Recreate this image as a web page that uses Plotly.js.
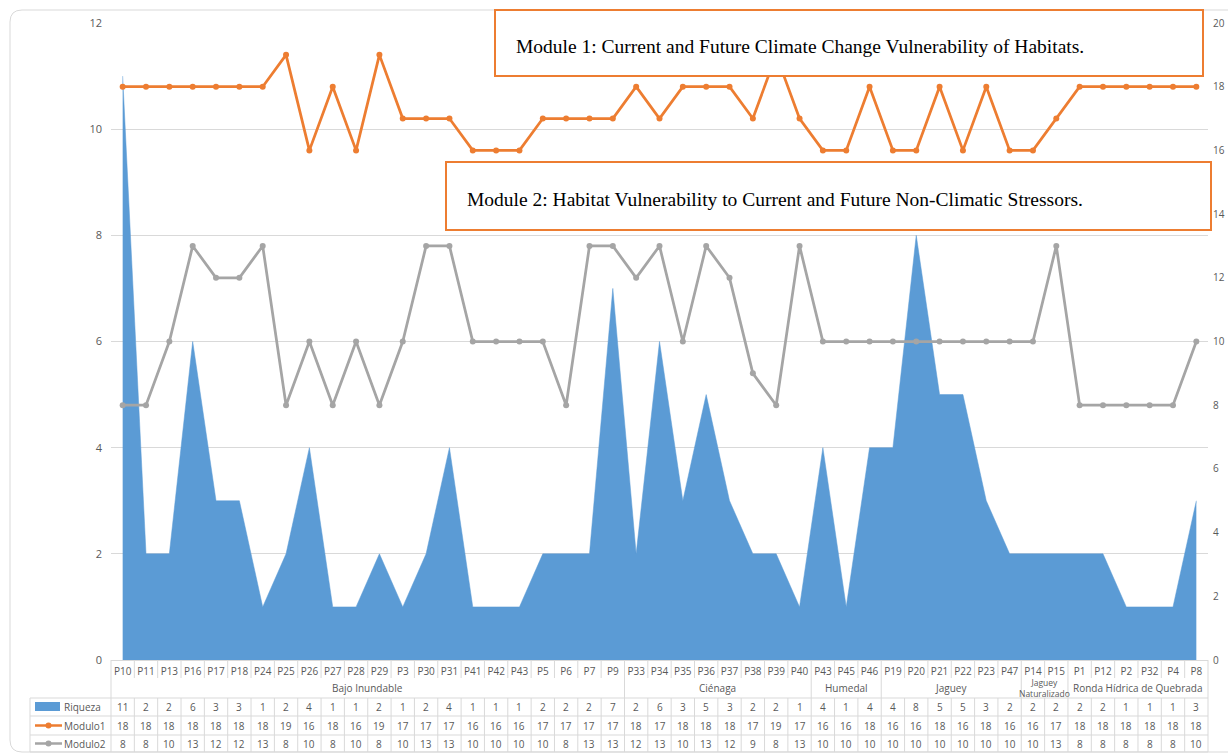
<!DOCTYPE html>
<html><head><meta charset="utf-8">
<script src="https://cdn.plot.ly/plotly-3.0.1.min.js"></script>
<style>html,body{margin:0;padding:0;background:#fff}</style>
</head><body>
<div id="chart" style="width:1228px;height:753px"></div>
<script>
const categories = ['P10','P11','P13','P16','P17','P18','P24','P25','P26','P27','P28','P29','P3','P30','P31','P41','P42','P43','P5','P6','P7','P9','P33','P34','P35','P36','P37','P38','P39','P40','P43','P45','P46','P19','P20','P21','P22','P23','P47','P14','P15','P1','P12','P2','P32','P4','P8'];
const groups = ['Bajo Inundable','Ciénaga','Humedal','Jaguey','Jaguey<br>Naturalizado','Ronda Hídrica de Quebrada'];
const groupSizes = [22,8,3,6,2,6];
const riqueza = [11,2,2,6,3,3,1,2,4,1,1,2,1,2,4,1,1,1,2,2,2,7,2,6,3,5,3,2,2,1,4,1,4,4,8,5,5,3,2,2,2,2,2,1,1,1,3];
const modulo1 = [18,18,18,18,18,18,18,19,16,18,16,19,17,17,17,16,16,16,17,17,17,17,18,17,18,18,18,17,19,17,16,16,18,16,16,18,16,18,16,16,17,18,18,18,18,18,18];
const modulo2 = [8,8,10,13,12,12,13,8,10,8,10,8,10,13,13,10,10,10,10,8,13,13,12,13,10,13,12,9,8,13,10,10,10,10,10,10,10,10,10,10,13,8,8,8,8,8,10];
const seriesNames = ['Riqueza','Modulo1','Modulo2'];
const module1Text = 'Module 1: Current and Future Climate Change Vulnerability of Habitats.';
const module2Text = 'Module 2: Habitat Vulnerability to Current and Future Non-Climatic Stressors.';

const BLUE = '#5B9BD5', ORANGE = '#ED7D31', GRAY = '#A5A5A5', GRID = '#D9D9D9', TXT = '#595959';
const W = 1228, H = 753, L = 111, R = 1208, T = 23, B = 660;
const PX = p => (p - L) / (R - L);
const PY = p => (B - p) / (B - T);
const n = categories.length;
const xs = categories.map((_, i) => i);

const traces = [
  {x: xs, y: riqueza, name: seriesNames[0], type: 'scatter', mode: 'lines', fill: 'tozeroy',
   line: {color: BLUE, width: 0.5}, fillcolor: BLUE, yaxis: 'y', hoverinfo: 'y'},
  {x: xs, y: modulo2, name: seriesNames[2], type: 'scatter', mode: 'lines+markers',
   line: {color: GRAY, width: 2.75}, marker: {color: GRAY, size: 6}, yaxis: 'y2'},
  {x: xs, y: modulo1, name: seriesNames[1], type: 'scatter', mode: 'lines+markers',
   line: {color: ORANGE, width: 2.75}, marker: {color: ORANGE, size: 6}, yaxis: 'y2'}
];

const shapes = [];
const annotations = [];
const tf = {family: 'Open Sans, Liberation Sans, sans-serif', size: 10, color: TXT};

// outer rounded border
shapes.push({type: 'path', xref: 'paper', yref: 'paper', layer: 'below',
  path: `M ${PX(1240)} ${PY(752)} L ${PX(22)} ${PY(752)} Q ${PX(10)} ${PY(752)} ${PX(10)} ${PY(740)} L ${PX(10)} ${PY(22)} Q ${PX(10)} ${PY(10)} ${PX(22)} ${PY(10)} L ${PX(1240)} ${PY(10)}`,
  line: {color: '#D9D9D9', width: 1}});

// table rows
const yCatTop = 660, yCatBot = 678, yGrpBot = 698, yR1 = 716, yR2 = 735, yR3 = 752;
const hline = (x0, x1, y) => shapes.push({type: 'line', xref: 'paper', yref: 'paper', x0: PX(x0), x1: PX(x1), y0: PY(y), y1: PY(y), line: {color: GRID, width: 1}});
const vlineP = (xp, y0, y1) => shapes.push({type: 'line', xref: 'paper', yref: 'paper', x0: xp, x1: xp, y0: PY(y0), y1: PY(y1), line: {color: GRID, width: 1}});
[yGrpBot, yR1, yR2, yR3].forEach(y => hline(30, R, y));
vlineP(PX(30), yGrpBot, yR3);
for (let i = 0; i <= n; i++) {
  const xp = i / n;
  vlineP(xp, yCatTop, yCatBot);
  vlineP(xp, yGrpBot, yR3);
}
let acc = 0;
vlineP(0, yCatBot, yGrpBot);
groups.forEach((g, k) => {
  const start = acc; acc += groupSizes[k];
  vlineP(acc / n, yCatBot, yGrpBot);
  const wrapped = g.indexOf('<br>') >= 0;
  annotations.push({xref: 'x', yref: 'paper', x: (start + acc - 1) / 2, y: PY(688), text: g, showarrow: false,
    xanchor: 'center', yanchor: 'middle', font: wrapped ? Object.assign({}, tf, {size: 8.5}) : tf});
});

// values in table
const rowsY = [707, 725.5, 743.5];
[riqueza, modulo1, modulo2].forEach((arr, r) => {
  arr.forEach((v, i) => annotations.push({xref: 'x', yref: 'paper', x: i, y: PY(rowsY[r]), text: String(v),
    showarrow: false, xanchor: 'center', yanchor: 'middle', font: tf}));
  annotations.push({xref: 'paper', yref: 'paper', x: PX(62), y: PY(rowsY[r]), text: seriesNames[r],
    showarrow: false, xanchor: 'left', yanchor: 'middle', font: tf});
});
// legend keys
shapes.push({type: 'rect', xref: 'paper', yref: 'paper', x0: PX(35), x1: PX(60), y0: PY(711), y1: PY(702), fillcolor: BLUE, line: {width: 0}});
[[ORANGE, 725.5], [GRAY, 743.5]].forEach(([c, y]) => {
  shapes.push({type: 'line', xref: 'paper', yref: 'paper', x0: PX(35), x1: PX(62), y0: PY(y), y1: PY(y), line: {color: c, width: 2.5}});
  shapes.push({type: 'circle', xref: 'paper', yref: 'paper', x0: PX(45.5), x1: PX(51.5), y0: PY(y + 3), y1: PY(y - 3), fillcolor: c, line: {width: 0}});
});

// module boxes
shapes.push({type: 'rect', xref: 'paper', yref: 'paper', layer: 'above', x0: PX(495), x1: PX(1203), y0: PY(76), y1: PY(10),
  fillcolor: '#fff', line: {color: ORANGE, width: 2}});
shapes.push({type: 'rect', xref: 'paper', yref: 'paper', layer: 'above', x0: PX(446), x1: PX(1211), y0: PY(230), y1: PY(162),
  fillcolor: '#fff', line: {color: ORANGE, width: 2}});
const sf = {family: 'Liberation Serif, DejaVu Serif, serif', size: 19.5, color: '#000'};
annotations.push({xref: 'paper', yref: 'paper', x: PX(514), y: PY(46), text: module1Text, showarrow: false, xanchor: 'left', yanchor: 'middle', font: sf});
annotations.push({xref: 'paper', yref: 'paper', x: PX(465), y: PY(199), text: module2Text, showarrow: false, xanchor: 'left', yanchor: 'middle', font: sf});

const layout = {
  width: W, height: H,
  margin: {l: L, r: W - R, t: T, b: H - B, pad: 0},
  paper_bgcolor: '#fff', plot_bgcolor: '#fff',
  showlegend: false,
  font: {family: 'Open Sans, Liberation Sans, sans-serif', color: TXT},
  xaxis: {range: [-0.5, n - 0.5], tickmode: 'array', tickvals: xs, ticktext: categories,
    tickfont: {size: 10, color: TXT}, ticks: '', showgrid: false, zeroline: false,
    showline: true, linecolor: GRID, linewidth: 1, fixedrange: true, ticklabelstandoff: 2},
  yaxis: {range: [0, 12], dtick: 2, tick0: 0, showgrid: true, gridcolor: GRID, gridwidth: 1,
    zeroline: false, showline: false, ticks: '', tickfont: {size: 11, color: TXT}, ticklabelstandoff: 8},
  yaxis2: {range: [0, 20], dtick: 2, tick0: 0, overlaying: 'y', side: 'right', showgrid: false,
    zeroline: false, showline: false, ticks: '', tickfont: {size: 10, color: TXT}, ticklabelstandoff: 4},
  shapes, annotations
};
Plotly.newPlot('chart', traces, layout, {displayModeBar: false, staticPlot: true});
</script>
</body></html>
